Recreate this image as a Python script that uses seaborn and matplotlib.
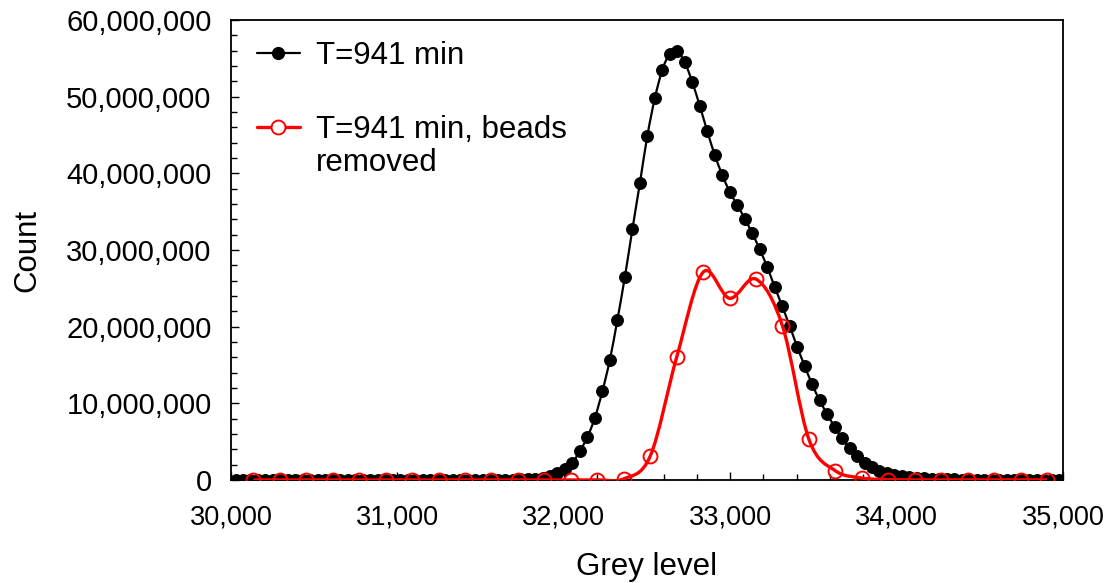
import matplotlib
matplotlib.use("Agg")
import matplotlib.pyplot as plt
import numpy as np
import seaborn as sns
from matplotlib.lines import Line2D
from matplotlib.patches import PathPatch
from matplotlib.path import Path
from matplotlib.ticker import FuncFormatter, MultipleLocator

# Black series: full histogram (grey level, count in millions)
black_x = [
    30027, 30072, 30117, 30162, 30207, 30252, 30297, 30342, 30387, 30432,
    30477, 30522, 30567, 30612, 30657, 30702, 30747, 30792, 30837, 30882,
    30927, 30972, 31017, 31062, 31107, 31152, 31197, 31242, 31287, 31332,
    31377, 31422, 31467, 31512, 31557, 31602, 31647, 31692, 31737, 31782,
    31827, 31872, 31917, 31962, 32007, 32052, 32097, 32142, 32187, 32232,
    32277, 32322, 32367, 32412, 32457, 32502, 32547, 32592, 32637, 32682,
    32727, 32772, 32817, 32862, 32907, 32952, 32997, 33042, 33087, 33132,
    33177, 33222, 33267, 33312, 33357, 33402, 33447, 33492, 33537, 33582,
    33627, 33672, 33717, 33762, 33807, 33852, 33897, 33942, 33987, 34032,
    34077, 34122, 34167, 34212, 34257, 34302, 34347, 34392, 34437, 34482,
    34527, 34572, 34617, 34662, 34707, 34752, 34797, 34842, 34887, 34932,
    34977,
]
black_m = [
    0.01, 0.01, 0.01, 0.01, 0.01, 0.01, 0.01, 0.01, 0.01, 0.01,
    0.01, 0.01, 0.01, 0.01, 0.01, 0.01, 0.01, 0.01, 0.01, 0.01,
    0.01, 0.01, 0.01, 0.01, 0.01, 0.01, 0.01, 0.01, 0.01, 0.01,
    0.01, 0.01, 0.01, 0.01, 0.02, 0.03, 0.04, 0.05, 0.07, 0.11,
    0.18, 0.30, 0.50, 0.85, 1.40, 2.26, 3.78, 5.61, 8.13, 11.6,
    15.7, 20.9, 26.5, 32.7, 38.7, 44.9, 49.8, 53.5, 55.6, 55.9,
    54.5, 51.9, 48.8, 45.5, 42.4, 39.8, 37.6, 35.9, 34.1, 32.2,
    30.1, 27.8, 25.2, 22.7, 20.1, 17.4, 14.9, 12.5, 10.4, 8.61,
    6.95, 5.44, 4.13, 3.13, 2.26, 1.66, 1.20, 0.85, 0.65, 0.50,
    0.38, 0.30, 0.22, 0.16, 0.12, 0.09, 0.07, 0.06, 0.05, 0.04,
    0.04, 0.03, 0.03, 0.03, 0.02, 0.02, 0.02, 0.02, 0.01, 0.01,
    0.01,
]

# Red series: beads removed
red_x = [
    30134, 30293, 30452, 30611, 30770, 30929, 31088, 31247, 31406, 31565,
    31724, 31883, 32042, 32201, 32360, 32519, 32678, 32837, 32996, 33155,
    33314, 33473, 33632, 33791, 33950, 34109, 34268, 34427, 34586, 34745,
    34904,
]
red_m = [
    0.0, 0.0, 0.0, 0.0, 0.0, 0.0, 0.0, 0.0, 0.0, 0.0,
    0.0, 0.0, 0.0, 0.02, 0.15, 3.1, 16.0, 27.1, 23.7, 26.2,
    20.1, 5.3, 1.2, 0.26, 0.05, 0.01, 0.01, 0.01, 0.01, 0.01,
    0.01,
]

label_black = "T=941 min"
label_red_1 = "T=941 min, beads"
label_red_2 = "removed"


def smooth_path(xs, ys):
    # Excel-style smoothed line: cubic Bezier through every point
    p = np.column_stack([xs, ys]).astype(float)
    n = len(p)
    verts = [p[0]]
    codes = [Path.MOVETO]
    for i in range(n - 1):
        p0 = p[i - 1] if i > 0 else p[i]
        p1 = p[i]
        p2 = p[i + 1]
        p3 = p[i + 2] if i + 2 < n else p[i + 1]
        verts += [p1 + (p2 - p0) / 6, p2 - (p3 - p1) / 6, p2]
        codes += [Path.CURVE4] * 3
    return Path(verts, codes)


black_y = np.array(black_m) * 1e6
red_y = np.array(red_m) * 1e6

sns.set_style("ticks")
plt.rcParams["font.family"] = ["Liberation Sans", "DejaVu Sans"]
plt.rcParams["text.color"] = "black"
plt.rcParams["axes.labelcolor"] = "black"

fig, ax = plt.subplots(figsize=(11.08, 5.83), dpi=100)
fig.subplots_adjust(left=0.2085, right=0.9594, top=0.9657, bottom=0.1767)

ax.add_patch(PathPatch(smooth_path(black_x, black_y), fill=False,
                       edgecolor="black", lw=1.6, zorder=2))
sns.lineplot(x=black_x, y=black_y, ax=ax, linestyle="none", marker="o",
             markersize=8.5, color="black", markeredgecolor="black", zorder=3)

ax.add_patch(PathPatch(smooth_path(red_x, red_y), fill=False,
                       edgecolor="#ff0000", lw=2.4, zorder=4))
sns.lineplot(x=red_x, y=red_y, ax=ax, linestyle="none", marker="o",
             markersize=10, color="#ff0000", markerfacecolor="none",
             markeredgecolor="#ff0000", markeredgewidth=1.4, zorder=5)

ax.set_xlim(30000, 35000)
ax.set_ylim(0, 60e6)
ax.xaxis.set_major_locator(MultipleLocator(1000))
ax.xaxis.set_minor_locator(MultipleLocator(200))
ax.yaxis.set_major_locator(MultipleLocator(10e6))
ax.yaxis.set_minor_locator(MultipleLocator(2e6))
fmt = FuncFormatter(lambda v, pos: f"{v:,.0f}")
ax.xaxis.set_major_formatter(fmt)
ax.yaxis.set_major_formatter(fmt)

ax.tick_params(which="both", direction="in", colors="black", width=1.0)
ax.tick_params(which="major", length=6)
ax.tick_params(which="minor", length=4)
ax.tick_params(axis="x", which="major", pad=18, labelsize=19.5)
ax.tick_params(axis="y", which="major", pad=14, labelsize=21)

for s in ax.spines.values():
    s.set_visible(True)
    s.set_color("black")
    s.set_linewidth(1.3)

ax.set_xlabel("Grey level", fontsize=22.5, labelpad=15)
ax.set_ylabel("Count", fontsize=22.5, labelpad=17)

handles = [
    Line2D([], [], color="black", lw=1.6, marker="o", markersize=8.5),
    Line2D([], [], color="#ff0000", lw=2.4, marker="o", markersize=10,
           markerfacecolor="white", markeredgewidth=1.4),
]
labels = [label_black, label_red_1]
leg = ax.legend(handles, labels, loc="upper left",
                bbox_to_anchor=(0.031, 0.954), frameon=False, fontsize=22.5,
                handlelength=1.38, handletextpad=0.5, labelspacing=1.4,
                borderpad=0, borderaxespad=0)

# second line of the red label, hung under the first line
ax.annotate(label_red_2, xy=(0, 0), xycoords=leg.get_texts()[1],
            xytext=(0, -33), textcoords="offset pixels",
            fontsize=22.5, ha="left", va="bottom", zorder=10)

fig.savefig("out.png", dpi=100)
